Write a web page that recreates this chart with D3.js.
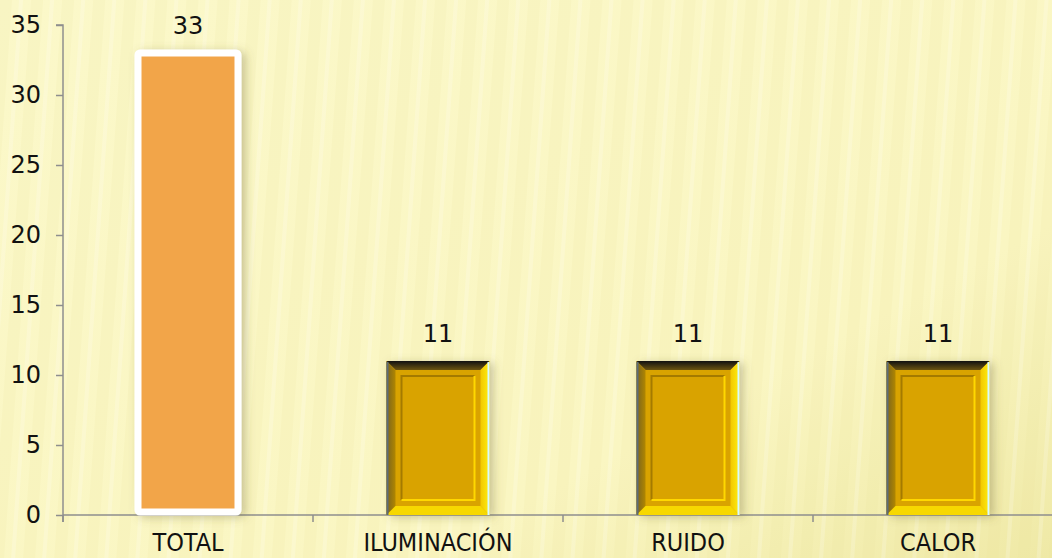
<!DOCTYPE html>
<html lang="es">
  <head>
    <meta charset="utf-8">
    <title>Total / Iluminación / Ruido / Calor</title>
    <style type="text/css">
      html, body{
        margin: 0;
        padding: 0;
        overflow: hidden;
      }
      .yAxis text{
        font-family: "DejaVu Sans", sans-serif;
        font-size: 24px;
        fill: #111;
      }
      .catLabel{
        font-family: "DejaVu Sans", sans-serif;
        font-stretch: condensed;
        font-size: 25px;
        fill: #111;
      }
      .valLabel{
        font-family: "DejaVu Sans", sans-serif;
        font-size: 24px;
        fill: #111;
      }
    </style>
    <script src="https://cdn.jsdelivr.net/npm/d3@7"></script>
  </head>
  <body>
    <script type="text/javascript">
      // chart data
      var categories = ["TOTAL", "ILUMINACIÓN", "RUIDO", "CALOR"];
      var values = [33, 11, 11, 11];
      var barStyles = ["plain", "bevel", "bevel", "bevel"];
      var yTicks = [0, 5, 10, 15, 20, 25, 30, 35];

      var width = 1052;
      var height = 558;
      var margin = {top: 25, left: 63, bottom: 43};

      var svg = d3.select("body")
        .append("svg")
        .attr("width", width)
        .attr("height", height);

      var defs = svg.append("defs");

      // pale yellow background with a faint stripe texture
      var bg = defs.append("linearGradient")
        .attr("id", "bg")
        .attr("x1", 0).attr("y1", 0).attr("x2", 1).attr("y2", 1);
      bg.append("stop").attr("offset", "0%").attr("stop-color", "#fbf8c9");
      bg.append("stop").attr("offset", "70%").attr("stop-color", "#faf6c2");
      bg.append("stop").attr("offset", "100%").attr("stop-color", "#efe9a6");

      var stripes = defs.append("pattern")
        .attr("id", "stripes")
        .attr("patternUnits", "userSpaceOnUse")
        .attr("width", 31)
        .attr("height", 600)
        .attr("patternTransform", "rotate(4)");
      stripes.append("rect")
        .attr("x", 0).attr("y", 0)
        .attr("width", 12).attr("height", 600)
        .attr("fill", "#e9e29a")
        .attr("opacity", 0.12);
      stripes.append("rect")
        .attr("x", 19).attr("y", 0)
        .attr("width", 4).attr("height", 600)
        .attr("fill", "#ffffff")
        .attr("opacity", 0.18);

      svg.append("rect")
        .attr("width", width).attr("height", height)
        .attr("fill", "url(#bg)");
      svg.append("rect")
        .attr("width", width).attr("height", height)
        .attr("fill", "url(#stripes)");

      // soft shadow behind the bars
      var shadow = defs.append("filter")
        .attr("id", "shadow")
        .attr("x", "-30%").attr("y", "-10%")
        .attr("width", "160%").attr("height", "120%");
      shadow.append("feDropShadow")
        .attr("dx", 4).attr("dy", 2)
        .attr("stdDeviation", 5)
        .attr("flood-color", "#6b6230")
        .attr("flood-opacity", 0.35);

      // bevel gradients for the gold bars
      var topGrad = defs.append("linearGradient")
        .attr("id", "topBevel")
        .attr("x1", 0).attr("y1", 0).attr("x2", 0).attr("y2", 1);
      topGrad.append("stop").attr("offset", "0%").attr("stop-color", "#111111");
      topGrad.append("stop").attr("offset", "100%").attr("stop-color", "#6b5410");

      var leftGrad = defs.append("linearGradient")
        .attr("id", "leftBevel")
        .attr("x1", 0).attr("y1", 0).attr("x2", 1).attr("y2", 0);
      leftGrad.append("stop").attr("offset", "0%").attr("stop-color", "#7a6420");
      leftGrad.append("stop").attr("offset", "100%").attr("stop-color", "#b08600");

      var rightGrad = defs.append("linearGradient")
        .attr("id", "rightBevel")
        .attr("x1", 0).attr("y1", 0).attr("x2", 1).attr("y2", 0);
      rightGrad.append("stop").attr("offset", "0%").attr("stop-color", "#f2c800");
      rightGrad.append("stop").attr("offset", "100%").attr("stop-color", "#ffee10");

      // scales
      var x = d3.scaleBand()
        .domain(categories)
        .range([margin.left, margin.left + 1000]);

      var y = d3.scaleLinear()
        .domain([0, 35])
        .range([height - margin.bottom, margin.top]);

      // y axis
      var yAxis = svg.append("g")
        .attr("class", "yAxis")
        .attr("transform", "translate(" + margin.left + ",0)")
        .call(d3.axisLeft(y).tickValues(yTicks).tickSize(7).tickPadding(15));
      yAxis.selectAll("line, path").attr("stroke", "#8e8e8e").attr("stroke-width", 1.5);
      yAxis.select(".domain").attr("d", "M-7," + y(35) + "H0V" + (y(0) + 7));

      // x axis line and boundary ticks
      svg.append("line")
        .attr("x1", margin.left).attr("x2", width)
        .attr("y1", y(0)).attr("y2", y(0))
        .attr("stroke", "#8e8e8e")
        .attr("stroke-width", 1.5);

      svg.selectAll(".xTick")
        .data(categories)
        .enter()
        .append("line")
        .attr("class", "xTick")
        .attr("x1", d => x(d)).attr("x2", d => x(d))
        .attr("y1", y(0)).attr("y2", y(0) + 7)
        .attr("stroke", "#8e8e8e")
        .attr("stroke-width", 1.5);

      var rows = categories.map((c, i) => ({cat: c, val: values[i], style: barStyles[i]}));
      var barW = 103;

      rows.forEach(function(d){
        var cx = x(d.cat) + x.bandwidth() / 2;
        var x0 = cx - barW / 2;
        var x1 = cx + barW / 2;
        var y0 = y(d.val);
        var y1 = y(0);
        var g = svg.append("g");

        if(d.style == "plain"){
          // orange bar with white frame
          g.append("rect")
            .attr("x", cx - 50).attr("y", y0)
            .attr("width", 100).attr("height", y1 - y0 - 3)
            .attr("rx", 2)
            .attr("fill", "#f2a54a")
            .attr("stroke", "#ffffff")
            .attr("stroke-width", 7)
            .attr("filter", "url(#shadow)");
        }
        else{
          var b = 9;
          g.append("rect")
            .attr("x", x0).attr("y", y0)
            .attr("width", barW).attr("height", y1 - y0)
            .attr("fill", "#d9a300")
            .attr("filter", "url(#shadow)");
          // bevel faces
          g.append("polygon")
            .attr("points", [[x0, y0], [x1, y0], [x1 - b, y0 + b], [x0 + b, y0 + b]].join(" "))
            .attr("fill", "url(#topBevel)");
          g.append("polygon")
            .attr("points", [[x0, y0], [x0 + b, y0 + b], [x0 + b, y1 - b], [x0, y1]].join(" "))
            .attr("fill", "url(#leftBevel)");
          g.append("polygon")
            .attr("points", [[x1, y0], [x1, y1], [x1 - b, y1 - b], [x1 - b, y0 + b]].join(" "))
            .attr("fill", "url(#rightBevel)");
          g.append("polygon")
            .attr("points", [[x0, y1], [x1, y1], [x1 - b, y1 - b], [x0 + b, y1 - b]].join(" "))
            .attr("fill", "#f7d800");
          // edge highlights
          g.append("line")
            .attr("x1", x0 + 1).attr("x2", x0 + 1)
            .attr("y1", y0 + 1).attr("y2", y1)
            .attr("stroke", "#5d6c78").attr("stroke-width", 2);
          g.append("line")
            .attr("x1", x1 - 1).attr("x2", x1 - 1)
            .attr("y1", y0 + 1).attr("y2", y1)
            .attr("stroke", "#d8fbff").attr("stroke-width", 2);
          // inner panel outline
          var ix0 = x0 + 15, ix1 = x1 - 15, iy0 = y0 + 15, iy1 = y1 - 15;
          g.append("path")
            .attr("d", "M" + ix0 + "," + iy1 + "V" + iy0 + "H" + ix1)
            .attr("fill", "none")
            .attr("stroke", "#a47a00").attr("stroke-width", 2);
          g.append("path")
            .attr("d", "M" + ix0 + "," + iy1 + "H" + ix1 + "V" + iy0)
            .attr("fill", "none")
            .attr("stroke", "#ffd800").attr("stroke-width", 2);
        }

        // value label
        svg.append("text")
          .attr("class", "valLabel")
          .attr("x", cx)
          .attr("y", y0 - 19)
          .attr("text-anchor", "middle")
          .text(d.val);

        // category label near the bottom edge
        svg.append("text")
          .attr("class", "catLabel")
          .attr("x", cx)
          .attr("y", 551)
          .attr("text-anchor", "middle")
          .text(d.cat);
      });
    </script>
  </body>
</html>
